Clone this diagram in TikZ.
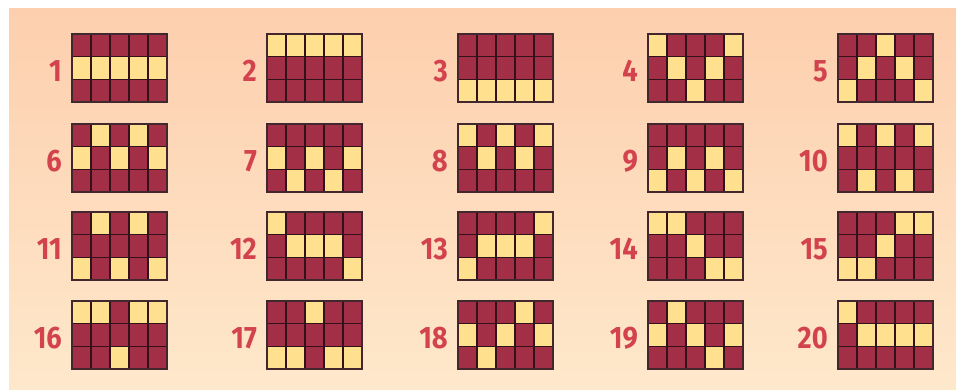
\documentclass[tikz,border=0pt]{standalone}
\usepackage{fontspec}
\newfontfamily\numfont{Fira Sans}[FakeStretch=0.88]
\usepackage{xcolor}
\usepackage{tikz}
\definecolor{peachtop}{HTML}{FDCFAE}
\definecolor{peachbot}{HTML}{FEE8CB}
\definecolor{lignered}{HTML}{A22F45}
\definecolor{ligneyel}{HTML}{FFE08E}
\definecolor{lignetrait}{HTML}{33111A}
\definecolor{chiffre}{HTML}{D2434E}

\begin{document}
\begin{tikzpicture}[x=1pt,y=-1pt,
    case/.style    = {fill=lignered,draw=lignetrait,line width=1.6pt},
    gagne/.style   = {fill=ligneyel,draw=lignetrait,line width=1.6pt},
    cadre/.style   = {draw=lignetrait!80!gray,line width=2pt},
    numero/.style  = {font=\numfont\bfseries\fontsize{31}{32}\selectfont,
                      text=chiffre,anchor=east,inner sep=0pt},
  ]

  \useasboundingbox (0,0) rectangle (956,389);

  % Fond dégradé
  \shade[top color=peachtop,bottom color=peachbot] (9,8) rectangle (956,389);

  % Lignes de paiement : numéro / position / cases jaunes (colonne/rangée)
  \foreach \n/\gx/\gy/\cells in {
      1/72/34/{1/2,2/2,3/2,4/2,5/2},
      2/267/34/{1/1,2/1,3/1,4/1,5/1},
      3/458/34/{1/3,2/3,3/3,4/3,5/3},
      4/648/34/{1/1,5/1,2/2,4/2,3/3},
      5/838/34/{3/1,2/2,4/2,1/3,5/3},
      6/72/124/{2/1,4/1,1/2,3/2,5/2},
      7/267/124/{1/2,3/2,5/2,2/3,4/3},
      8/458/124/{1/1,3/1,5/1,2/2,4/2},
      9/648/124/{2/2,4/2,1/3,3/3,5/3},
      10/838/124/{1/1,3/1,5/1,2/3,4/3},
      11/72/212/{2/1,4/1,1/3,3/3,5/3},
      12/267/212/{1/1,2/2,3/2,4/2,5/3},
      13/458/212/{5/1,2/2,3/2,4/2,1/3},
      14/648/212/{1/1,2/1,3/2,4/3,5/3},
      15/838/212/{4/1,5/1,3/2,1/3,2/3},
      16/72/301/{1/1,2/1,4/1,5/1,3/3},
      17/267/301/{3/1,1/3,2/3,4/3,5/3},
      18/458/301/{4/1,1/2,3/2,5/2,2/3},
      19/648/301/{2/1,1/2,3/2,5/2,4/3},
      20/838/301/{1/1,2/2,3/2,4/2,5/2}}
  {
    \foreach \c in {1,...,5}
      \foreach \r in {1,2,3}
        \path[case] (\gx+19*\c-19,\gy+22.67*\r-22.67) rectangle +(19,22.67);
    \foreach \c/\r in \cells
      \path[gagne] (\gx+19*\c-19,\gy+22.67*\r-22.67) rectangle +(19,22.67);
    \draw[cadre] (\gx,\gy) rectangle +(95,68);
    \node[numero] (num\n) at (\gx-10,\gy+37) {\n};
  }

\end{tikzpicture}
\end{document}
